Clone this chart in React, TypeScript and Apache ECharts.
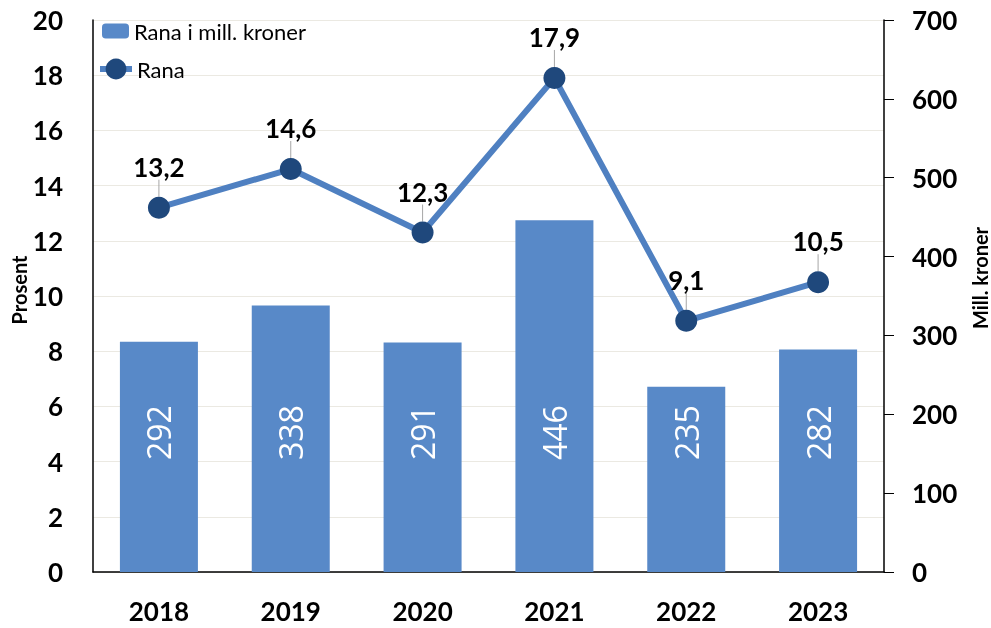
import React, { useEffect, useRef } from "react";
import * as echarts from "echarts";

const years = ["2018", "2019", "2020", "2021", "2022", "2023"];
const millKroner = [292, 338, 291, 446, 235, 282];
const prosent = [13.2, 14.6, 12.3, 17.9, 9.1, 10.5];
const leftAxisName = "Prosent";
const rightAxisName = "Mill. kroner";

const FONT = "Lato, 'Open Sans', 'Liberation Sans', sans-serif";

export default function App() {
  const ref = useRef<HTMLDivElement>(null);
  useEffect(() => {
    if (!ref.current) return;
    const chart = echarts.init(ref.current, null, { renderer: "svg" });
    chart.setOption({
      animation: false,
      textStyle: { fontFamily: FONT },
      grid: { left: 93, right: 107, top: 20, bottom: 56, containLabel: false, outerBoundsMode: "none" },
      graphic: [
        {
          type: "text",
          x: 19,
          y: 290,
          rotation: Math.PI / 2,
          style: {
            text: leftAxisName,
            fontSize: 20,
            fontWeight: "bold",
            fontFamily: FONT,
            fill: "#000",
            align: "center",
            verticalAlign: "middle",
          },
        },
        {
          type: "text",
          x: 980,
          y: 278,
          rotation: Math.PI / 2,
          style: {
            text: rightAxisName,
            fontSize: 20,
            fontWeight: "bold",
            fontFamily: FONT,
            fill: "#000",
            align: "center",
            verticalAlign: "middle",
          },
        },
      ],
      legend: [
        {
          orient: "vertical",
          left: 102,
          top: 20,
          padding: 0,
          itemWidth: 27,
          itemHeight: 15,
          textStyle: { fontSize: 22, color: "#000", fontFamily: FONT },
          data: [{ name: "Rana i mill. kroner" }],
        },
        {
          orient: "vertical",
          left: 97,
          top: 58,
          padding: 0,
          itemWidth: 32,
          itemHeight: 26,
          lineStyle: { width: 6, color: "#4f80c1" },
          textStyle: { fontSize: 22, color: "#000", fontFamily: FONT },
          data: [{ name: "Rana" }],
        },
      ],
      xAxis: {
        type: "category",
        data: years,
        axisLine: { show: true, lineStyle: { color: "#000", width: 1.5 } },
        axisTick: { show: false },
        axisLabel: { fontSize: 26, fontWeight: "bold", color: "#000", margin: 26, fontFamily: FONT },
      },
      yAxis: [
        {
          type: "value",
          min: 0,
          max: 20,
          interval: 2,
          axisLine: { show: true, lineStyle: { color: "#000", width: 1.5 } },
          axisTick: { show: false },
          axisLabel: { fontSize: 26, fontWeight: "bold", color: "#000", margin: 30, fontFamily: FONT },
          splitLine: { show: true, lineStyle: { color: "#ebe9e2", width: 1 } },
        },
        {
          type: "value",
          min: 0,
          max: 700,
          interval: 100,
          position: "right",
          axisLine: { show: true, lineStyle: { color: "#000", width: 1.5 } },
          axisTick: { show: true, length: 10, lineStyle: { color: "#000" } },
          axisLabel: { fontSize: 26, fontWeight: "bold", color: "#000", margin: 28, fontFamily: FONT },
          splitLine: { show: false },
        },
      ],
      series: [
        {
          name: "Rana i mill. kroner",
          type: "bar",
          yAxisIndex: 1,
          data: millKroner,
          barWidth: 78,
          itemStyle: { color: "#5889c8" },
          label: {
            show: true,
            position: "insideBottom",
            rotate: 90,
            align: "left",
            verticalAlign: "middle",
            distance: 112,
            color: "#fff",
            fontSize: 32,
            fontFamily: "'Open Sans', 'Liberation Sans', sans-serif",
          },
        },
        {
          name: "Rana",
          type: "line",
          yAxisIndex: 0,
          data: prosent,
          symbol: "circle",
          symbolSize: 22,
          lineStyle: { color: "#4f80c1", width: 6 },
          itemStyle: { color: "#1f487c" },
          label: {
            show: true,
            position: "inside",
            formatter: (p: any) => String(p.value).replace(".", ","),
            fontSize: 26,
            fontWeight: "bold",
            color: "#000",
            fontFamily: FONT,
          },
          labelLayout: { dy: -41 },
          labelLine: { show: true, lineStyle: { color: "#a6a6a6", width: 1 } },
          z: 5,
        },
      ],
    });
    return () => chart.dispose();
  }, []);
  return (
    <div
      ref={ref}
      style={{ position: "fixed", left: 0, top: 0, width: 991, height: 628 }}
    />
  );
}
